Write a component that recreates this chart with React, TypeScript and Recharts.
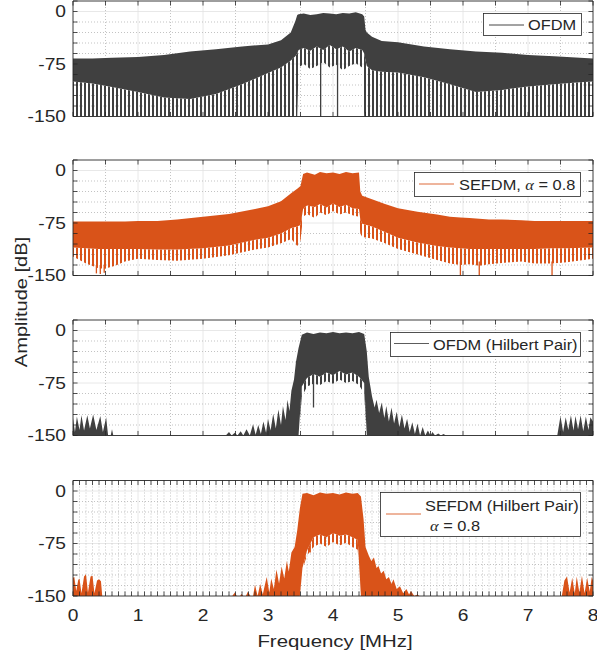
import React from 'react';
import { ComposedChart, Area, XAxis, YAxis, CartesianGrid, ReferenceLine, Legend } from 'recharts';

const GRAY = '#404040';
const ORANGE = '#D95319';
const INK = '#262626';
const FONT = "'Liberation Sans', Arial, Helvetica, sans-serif";
const SERIF = "'Liberation Serif', 'DejaVu Serif', serif";

// ---- panel 1: OFDM (envelope, dB) ----
const ofdmFreq = [0, 0.3, 0.6, 1.0, 1.4, 1.8, 2.2, 2.6, 3.0, 3.2, 3.35, 3.42, 3.45, 3.47, 3.55, 3.65, 3.75, 3.85, 3.95, 4.05, 4.15, 4.25, 4.35, 4.45, 4.48, 4.5, 4.52, 4.6, 4.75, 5.0, 5.4, 5.8, 6.2, 6.6, 7.0, 7.4, 7.8, 8.0];
const ofdmTop = [-67, -67, -66, -65, -62, -57, -54, -50, -47, -41, -30, -14, -5, -4, -3, -5, -4, -2, -3, -4, -2, -3, -1, -4, -7, -26, -30, -36, -42, -44, -50, -54, -57, -59, -62, -64, -66, -67];
const ofdmCore = [-100, -103, -108, -115, -123, -125, -118, -104, -88, -80, -70, -64, -60, -55, -52, -56, -50, -55, -48, -54, -50, -57, -52, -55, -60, -70, -78, -84, -86, -87, -94, -104, -115, -112, -107, -104, -101, -100];
const ofdmFloor = [-150, -150, -150, -150, -150, -150, -150, -150, -150, -150, -150, -150, -150, -80, -75, -82, -78, -72, -80, -76, -84, -78, -74, -80, -150, -150, -150, -150, -150, -150, -150, -150, -150, -150, -150, -150, -150, -150];
const ofdmNotchFreq = [3.81, 4.07];
const ofdmNotchTop = [-55, -52];
const ofdmNotchLow = [-150, -150];

// ---- panel 2: SEFDM, alpha = 0.8 ----
const sefdmFreq = [0, 0.2, 0.4, 0.5, 0.65, 0.8, 1.0, 1.3, 1.6, 2.0, 2.4, 2.8, 3.0, 3.2, 3.36, 3.45, 3.5, 3.54, 3.6, 3.72, 3.8, 3.9, 4.0, 4.1, 4.2, 4.3, 4.4, 4.42, 4.45, 4.6, 4.8, 5.0, 5.3, 5.6, 5.8, 5.96, 6.1, 6.25, 6.4, 6.6, 6.9, 7.1, 7.37, 7.6, 8.0];
const sefdmTop = [-73, -73, -73, -73, -73, -73, -72, -72, -70, -66, -62, -55, -51, -44, -32, -26, -22, -5, -3, -6, -2, -4, -3, -5, -2, -4, -3, -30, -36, -41, -48, -54, -59, -63, -66, -67, -68, -69, -70, -70, -71, -72, -72, -72, -72];
const sefdmCore = [-110, -111, -112, -112, -112, -112, -112, -113, -113, -111, -107, -99, -96, -90, -82, -80, -78, -55, -50, -52, -48, -53, -47, -52, -49, -54, -55, -70, -76, -80, -88, -96, -103, -108, -110, -111, -112, -112, -112, -112, -112, -112, -111, -111, -110];
const sefdmFloor = [-123, -133, -140, -140, -136, -130, -126, -128, -129, -126, -121, -113, -110, -104, -98, -108, -100, -66, -62, -68, -60, -64, -58, -63, -60, -64, -66, -90, -95, -97, -104, -112, -120, -128, -133, -135, -134, -136, -134, -132, -130, -133, -133, -131, -126];
const sefdmNotchFreq = [0.36, 0.42, 0.48, 5.96, 6.25, 7.37];
const sefdmNotchTop = [-135, -135, -135, -130, -130, -130];
const sefdmNotchLow = [-147, -148, -146, -150, -150, -150];

// ---- panel 3: OFDM (Hilbert Pair) ----
const hOfdmFreq = [0, 0.03, 0.06, 0.1, 0.13, 0.17, 0.22, 0.26, 0.31, 0.36, 0.42, 0.46, 0.51, 0.54, 0.58, 0.6, 0.62, 2.0, 2.35, 2.4, 2.44, 2.49, 2.53, 2.58, 2.62, 2.67, 2.72, 2.77, 2.81, 2.85, 2.89, 2.93, 2.97, 3.0, 3.04, 3.08, 3.12, 3.16, 3.2, 3.23, 3.27, 3.3, 3.33, 3.36, 3.4, 3.43, 3.47, 3.52, 3.6, 3.7, 3.8, 3.9, 4.0, 4.1, 4.2, 4.3, 4.4, 4.48, 4.52, 4.55, 4.6, 4.64, 4.67, 4.71, 4.75, 4.79, 4.82, 4.86, 4.9, 4.94, 4.98, 5.02, 5.06, 5.1, 5.14, 5.18, 5.22, 5.26, 5.3, 5.34, 5.38, 5.42, 5.46, 5.5, 5.53, 5.57, 5.62, 5.66, 5.7, 5.74, 7.4, 7.45, 7.5, 7.54, 7.58, 7.62, 7.66, 7.7, 7.73, 7.77, 7.81, 7.85, 7.89, 7.93, 7.96, 8.0];
const hOfdmTop = [-125, -145, -123, -142, -121, -143, -121, -140, -120, -142, -122, -145, -124, -150, -150, -141, -150, -150, -150, -145, -150, -146, -150, -144, -150, -141, -150, -134, -149, -135, -148, -130, -146, -126, -143, -119, -140, -113, -135, -108, -128, -99, -115, -86, -70, -45, -25, -6, -3, -5, -3, -4, -2, -4, -3, -4, -2, -5, -30, -66, -94, -110, -99, -118, -103, -125, -108, -130, -110, -133, -116, -138, -120, -140, -126, -145, -131, -148, -133, -150, -138, -150, -143, -150, -145, -150, -147, -150, -148, -150, -150, -150, -122, -145, -124, -142, -121, -143, -122, -141, -121, -144, -123, -142, -124, -130];
const hOfdmBandFreq = [3.47, 3.52, 3.6, 3.7, 3.8, 3.9, 4.0, 4.1, 4.2, 4.3, 4.4, 4.48, 4.52];
const hOfdmBandCore = [-150, -80, -68, -62, -66, -60, -64, -58, -63, -60, -66, -75, -150];
const hOfdmBandFloor = [-150, -95, -80, -76, -78, -72, -76, -70, -75, -72, -78, -90, -150];
const hOfdmNotchFreq = [3.7];
const hOfdmNotchTop = [-62];
const hOfdmNotchLow = [-110];

// ---- panel 4: SEFDM (Hilbert Pair), alpha = 0.8 ----
const hSefdmFreq = [0, 0.02, 0.05, 0.08, 0.1, 0.13, 0.17, 0.2, 0.23, 0.27, 0.3, 0.33, 0.37, 0.4, 0.43, 0.45, 2.45, 2.49, 2.52, 2.57, 2.59, 2.62, 2.66, 2.69, 2.73, 2.77, 2.8, 2.84, 2.88, 2.92, 2.95, 2.98, 3.02, 3.05, 3.09, 3.13, 3.17, 3.21, 3.25, 3.29, 3.32, 3.36, 3.41, 3.45, 3.49, 3.53, 3.6, 3.7, 3.8, 3.9, 4.0, 4.1, 4.2, 4.3, 4.38, 4.43, 4.47, 4.5, 4.55, 4.59, 4.63, 4.67, 4.7, 4.74, 4.78, 4.82, 4.86, 4.9, 4.93, 4.98, 5.03, 5.08, 5.13, 5.17, 5.2, 5.25, 5.3, 5.33, 7.52, 7.56, 7.6, 7.64, 7.68, 7.72, 7.75, 7.79, 7.83, 7.87, 7.91, 7.95, 7.98, 8.0];
const hSefdmTop = [-124, -123, -143, -127, -125, -146, -122, -119, -145, -122, -121, -146, -128, -126, -129, -150, -150, -145, -150, -150, -147, -150, -150, -144, -150, -150, -134, -150, -133, -148, -135, -123, -145, -125, -140, -112, -132, -108, -125, -100, -115, -88, -80, -56, -25, -4, -3, -6, -2, -4, -3, -5, -2, -4, -3, -8, -40, -80, -92, -100, -95, -110, -107, -118, -114, -126, -123, -133, -126, -140, -136, -146, -140, -148, -143, -150, -148, -150, -150, -128, -122, -145, -124, -146, -122, -145, -121, -146, -124, -144, -123, -128];
const hSefdmBandFreq = [3.49, 3.53, 3.6, 3.7, 3.8, 3.9, 4.0, 4.1, 4.2, 4.3, 4.38, 4.43];
const hSefdmBandCore = [-150, -110, -85, -66, -62, -66, -60, -64, -62, -66, -70, -150];
const hSefdmBandFloor = [-150, -112, -92, -80, -75, -80, -73, -78, -74, -80, -84, -150];
const hSefdmNotchFreq = [3.65];
const hSefdmNotchTop = [-75];
const hSefdmNotchLow = [-88];

// ---- axes ----
const Y_MIN = -150;
const Y_MAX = 15;
const yTickLabels = [-150, -75, 0];
const xTickLabels = [0, 1, 2, 3, 4, 5, 6, 7, 8];
const yMajorGrid = [-75, 0];
const xMajorGrid = [1, 2, 3, 4, 5, 6, 7];
const yMinorGrid = [-135, -120, -105, -90, -60, -45, -30, -15];
const dbMarks = Array.from({ length: 12 }, (_, i) => -150 + i * 15);
const halfMarks = Array.from({ length: 17 }, (_, i) => i * 0.5);
const tenthMarks = Array.from({ length: 81 }, (_, i) => i / 10);
const halfMinorGrid = halfMarks.filter((v) => v % 1 !== 0);
const tenthMinorGrid = tenthMarks.filter((v) => Math.abs(v - Math.round(v)) > 1e-6);

type Row = { f: number; band: [number, number]; comb?: [number, number] };

function fullRows(freq: number[], top: number[], core: number[], floor: number[]): Row[] {
  return freq.map((f, i) => ({ f, band: [core[i], top[i]], comb: [floor[i], core[i]] }));
}

function hilbertRows(freq: number[], top: number[], bFreq: number[], bCore: number[], bFloor: number[]): Row[] {
  return freq.map((f, i) => {
    const j = bFreq.indexOf(f);
    if (j < 0) return { f, band: [Y_MIN, top[i]] };
    return { f, band: [bCore[j], top[i]], comb: [bFloor[j], bCore[j]] };
  });
}

// text stretched a little along its direction, like the original renderer
function SText({ x, y, size, anchor = 'start', rotate = false, sx = 1.2, children }: any) {
  return (
    <text
      transform={`translate(${x},${y})${rotate ? ' rotate(-90)' : ''} scale(${sx},1)`}
      fontSize={size}
      fontFamily={FONT}
      fill={INK}
      textAnchor={anchor}
    >
      {children}
    </text>
  );
}

const YTick = (props: any) => (
  <SText x={66} y={props.y + 5.6} size={16} anchor="end">
    {props.payload.value}
  </SText>
);

const XTick = (props: any) => (
  <SText x={props.x} y={620.5} size={16} anchor="middle">
    {props.payload.value}
  </SText>
);

const alpha = (
  <tspan fontFamily={SERIF} fontStyle="italic">
    α
  </tspan>
);

function LegendBox({ w, h, color, lineY, lineX, textX, rows }: any) {
  return (
    <svg width={w} height={h} style={{ display: 'block', overflow: 'visible' }}>
      <rect x={0.5} y={0.5} width={w - 1} height={h - 1} fill="#fff" stroke={INK} strokeWidth={0.8} />
      <line x1={lineX} x2={lineX + 35} y1={lineY} y2={lineY} stroke={color} strokeWidth={1} opacity={0.85} />
      {rows.map((r: any, i: number) => (
        <SText key={i} x={r.x ?? textX} y={r.y} size={14} sx={1.17}>
          {r.text}
        </SText>
      ))}
    </svg>
  );
}

type PanelProps = {
  top: number;
  bottom: number;
  rows: Row[];
  color: string;
  id: string;
  xMarks: number[];
  xMinor: number[];
  notchFreq: number[];
  notchTop: number[];
  notchLow: number[];
  showX?: boolean;
  legend: any;
  legendPos: { left: number; top: number };
  children?: React.ReactNode;
};

function Panel(p: PanelProps) {
  const tlY = 6.5;
  const tlX = 0.07;
  return (
    <div style={{ position: 'absolute', left: 0, top: 0 }}>
      <ComposedChart width={597} height={659} data={p.rows} margin={{ top: p.top, right: 4, bottom: p.bottom, left: 0 }}>
        <defs>
          <pattern id={p.id} patternUnits="userSpaceOnUse" width={4} height={6}>
            <rect x={0} y={0} width={2} height={6} fill={p.color} />
          </pattern>
        </defs>
        <CartesianGrid horizontalValues={yMajorGrid} verticalValues={xMajorGrid} stroke="#e2e2e2" strokeWidth={0.8} />
        <CartesianGrid horizontalValues={yMinorGrid} verticalValues={p.xMinor} stroke="#b4b4b4" strokeWidth={0.8} strokeDasharray="1 2" />
        <XAxis
          type="number"
          dataKey="f"
          domain={[0, 8]}
          ticks={xTickLabels}
          interval={0}
          allowDataOverflow
          hide={!p.showX}
          height={30}
          axisLine={false}
          tickLine={false}
          tick={XTick}
        />
        <YAxis
          type="number"
          domain={[Y_MIN, Y_MAX]}
          ticks={yTickLabels}
          interval={0}
          allowDataOverflow
          width={73}
          axisLine={false}
          tickLine={false}
          tick={YTick}
        />
        <Area type="linear" dataKey="comb" fill={`url(#${p.id})`} fillOpacity={1} stroke="none" isAnimationActive={false} legendType="none" dot={false} activeDot={false} />
        <Area type="linear" dataKey="band" fill={p.color} fillOpacity={1} stroke="none" isAnimationActive={false} dot={false} activeDot={false} />
        {p.notchFreq.map((f, i) => (
          <ReferenceLine
            key={`n${i}`}
            segment={[{ x: f, y: p.notchTop[i] }, { x: f, y: p.notchLow[i] }]}
            stroke={p.color}
            strokeWidth={1.3}
          />
        ))}
        <ReferenceLine x={0} stroke={INK} strokeWidth={0.9} />
        <ReferenceLine x={8} stroke={INK} strokeWidth={0.9} />
        <ReferenceLine y={Y_MAX} stroke={INK} strokeWidth={0.9} />
        <ReferenceLine y={Y_MIN} stroke={INK} strokeWidth={0.9} />
        {p.xMarks.map((v) => (
          <ReferenceLine key={`xb${v}`} segment={[{ x: v, y: Y_MIN }, { x: v, y: Y_MIN + tlY }]} stroke={INK} strokeWidth={0.8} />
        ))}
        {p.xMarks.map((v) => (
          <ReferenceLine key={`xt${v}`} segment={[{ x: v, y: Y_MAX }, { x: v, y: Y_MAX - tlY }]} stroke={INK} strokeWidth={0.8} />
        ))}
        {dbMarks.map((v) => (
          <ReferenceLine key={`yl${v}`} segment={[{ x: 0, y: v }, { x: tlX, y: v }]} stroke={INK} strokeWidth={0.8} />
        ))}
        {dbMarks.map((v) => (
          <ReferenceLine key={`yr${v}`} segment={[{ x: 8, y: v }, { x: 8 - tlX, y: v }]} stroke={INK} strokeWidth={0.8} />
        ))}
        {p.children}
        <Legend
          layout="horizontal"
          verticalAlign="middle"
          align="center"
          content={() => p.legend}
          wrapperStyle={{ left: p.legendPos.left, top: p.legendPos.top, width: 'auto', height: 'auto' }}
        />
      </ComposedChart>
    </div>
  );
}

export default function App() {
  return (
    <div style={{ position: 'absolute', left: 0, top: 0, width: 597, height: 659, background: '#fff' }}>
      <Panel
        top={1}
        bottom={542.5}
        rows={fullRows(ofdmFreq, ofdmTop, ofdmCore, ofdmFloor)}
        color={GRAY}
        id="comb1"
        xMarks={halfMarks}
        xMinor={halfMinorGrid}
        notchFreq={ofdmNotchFreq}
        notchTop={ofdmNotchTop}
        notchLow={ofdmNotchLow}
        legendPos={{ left: 483, top: 13 }}
        legend={<LegendBox w={99} h={23} color={INK} lineY={12} lineX={6} textX={45} rows={[{ y: 17, text: 'OFDM' }]} />}
      />
      <Panel
        top={160}
        bottom={383.5}
        rows={fullRows(sefdmFreq, sefdmTop, sefdmCore, sefdmFloor)}
        color={ORANGE}
        id="comb2"
        xMarks={halfMarks}
        xMinor={halfMinorGrid}
        notchFreq={sefdmNotchFreq}
        notchTop={sefdmNotchTop}
        notchLow={sefdmNotchLow}
        legendPos={{ left: 414, top: 172 }}
        legend={
          <LegendBox
            w={167}
            h={25}
            color={ORANGE}
            lineY={12}
            lineX={5}
            textX={45}
            rows={[{ y: 17.5, text: <>SEFDM, {alpha} = 0.8</> }]}
          />
        }
      />
      <Panel
        top={320}
        bottom={223.5}
        rows={hilbertRows(hOfdmFreq, hOfdmTop, hOfdmBandFreq, hOfdmBandCore, hOfdmBandFloor)}
        color={GRAY}
        id="comb3"
        xMarks={halfMarks}
        xMinor={halfMinorGrid}
        notchFreq={hOfdmNotchFreq}
        notchTop={hOfdmNotchTop}
        notchLow={hOfdmNotchLow}
        legendPos={{ left: 390, top: 332 }}
        legend={<LegendBox w={191} h={25} color={GRAY} lineY={11.5} lineX={4} textX={43} rows={[{ y: 17.5, text: 'OFDM (Hilbert Pair)' }]} />}
      >
        <SText x={26.5} y={302} size={17} anchor="middle" rotate sx={1.18}>
          Amplitude [dB]
        </SText>
      </Panel>
      <Panel
        top={480.5}
        bottom={33}
        rows={hilbertRows(hSefdmFreq, hSefdmTop, hSefdmBandFreq, hSefdmBandCore, hSefdmBandFloor)}
        color={ORANGE}
        id="comb4"
        xMarks={tenthMarks}
        xMinor={tenthMinorGrid}
        notchFreq={hSefdmNotchFreq}
        notchTop={hSefdmNotchTop}
        notchLow={hSefdmNotchLow}
        showX
        legendPos={{ left: 380, top: 492 }}
        legend={
          <LegendBox
            w={201}
            h={45}
            color={ORANGE}
            lineY={22}
            lineX={6}
            textX={45}
            rows={[
              { y: 18.5, text: 'SEFDM (Hilbert Pair)' },
              { x: 50, y: 38.5, text: <>{alpha} = 0.8</> },
            ]}
          />
        }
      >
        <SText x={335} y={646.5} size={17} anchor="middle">
          Frequency [MHz]
        </SText>
      </Panel>
    </div>
  );
}
